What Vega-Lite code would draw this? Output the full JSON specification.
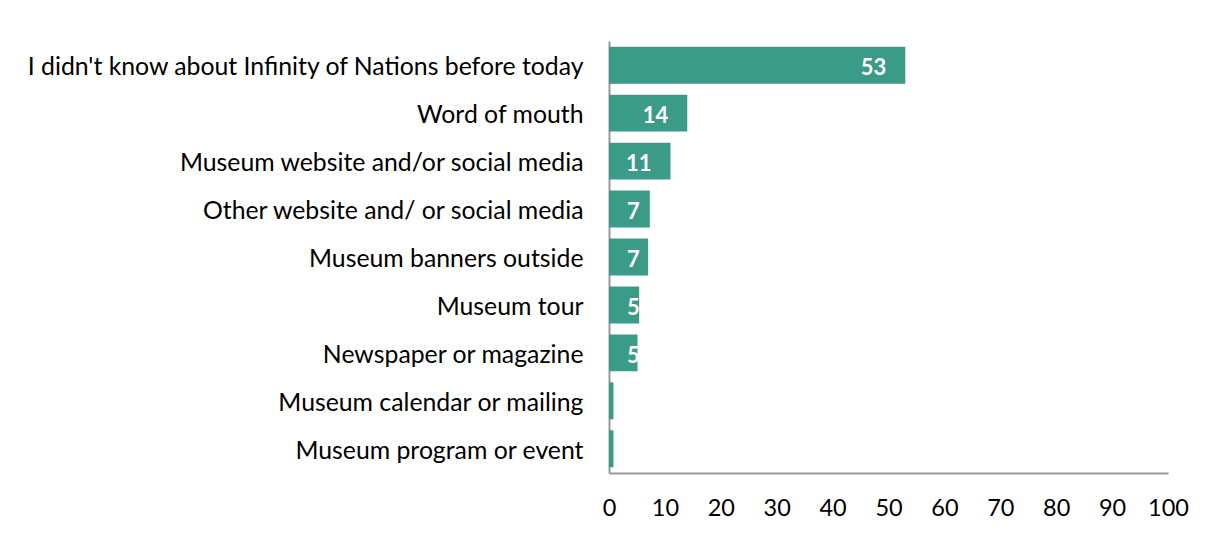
{
  "$schema": "https://vega.github.io/schema/vega-lite/v6.json",
  "autosize": {"type": "none"},
  "padding": {"left": 609, "top": 41, "right": 46, "bottom": 69},
  "width": 559,
  "height": 432,
  "background": "white",
  "config": {"view": {"stroke": null}, "font": "Lato"},
  "data": {"values": [
    {"source": "I didn't know about Infinity of Nations before today", "value": 53},
    {"source": "Word of mouth", "value": 14},
    {"source": "Museum website and/or social media", "value": 11},
    {"source": "Other website and/ or social media", "value": 7.3},
    {"source": "Museum banners outside", "value": 7},
    {"source": "Museum tour", "value": 5.4},
    {"source": "Newspaper or magazine", "value": 5.1},
    {"source": "Museum calendar or mailing", "value": 0.8},
    {"source": "Museum program or event", "value": 0.8}
  ]},
  "encoding": {
    "y": {"field": "source", "type": "nominal", "sort": null,
      "scale": {"paddingInner": 0.23, "paddingOuter": 0.12},
      "axis": {"title": null, "ticks": false, "labelFontSize": 24.8, "labelColor": "#000", "labelPadding": 26, "labelOffset": 3, "domainColor": "#999", "domainWidth": 2, "labelLimit": 700}}
  },
  "layer": [
    {"mark": {"type": "bar", "color": "#3A9B87"},
     "encoding": {
       "x": {"field": "value", "type": "quantitative", "scale": {"domain": [0, 100]},
         "axis": {"title": null, "values": [0,10,20,30,40,50,60,70,80,90,100], "grid": false, "ticks": false, "labelFontSize": 23.5, "labelColor": "#000", "labelPadding": 23, "domainColor": "#999", "domainWidth": 2, "labelFlush": false}}
     }},
    {"transform": [
       {"filter": "datum.value >= 2"},
       {"calculate": "max(datum.value, 8.9)", "as": "labelX"},
       {"calculate": "format(datum.value, '.0f')", "as": "label"}
     ],
     "mark": {"type": "text", "align": "right", "dx": -19, "dy": 3, "color": "white", "fontWeight": "bold", "fontSize": 22, "baseline": "middle"},
     "encoding": {
       "x": {"field": "labelX", "type": "quantitative"},
       "text": {"field": "label"}
     }}
  ]
}
